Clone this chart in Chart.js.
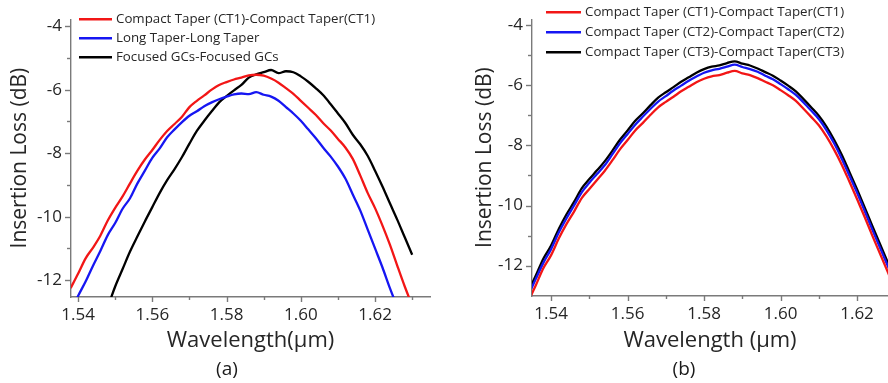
<!DOCTYPE html>
<html>
<head>
<meta charset="utf-8">
<script src="https://cdn.jsdelivr.net/npm/chart.js@4.4.1/dist/chart.umd.min.js"></script>
<style>
  html, body { margin: 0; padding: 0; background: #fff; }
  #wrap { position: relative; width: 888px; height: 383px; overflow: hidden; background: #fff; }
  .panel { position: absolute; top: 0; width: 444px; height: 383px; }
  .sub { position: absolute; width: 60px; text-align: center; font: 19px "Open Sans", sans-serif; line-height: 19px; color: #1a1a1a; top: 359px; }
</style>
</head>
<body>
<div id="wrap">
  <div class="panel" style="left:0"><canvas id="ca" width="444" height="383"></canvas></div>
  <div class="panel" style="left:444px"><canvas id="cb" width="444" height="383"></canvas></div>
  <div class="sub" id="la" style="left:197px">(a)</div>
  <div class="sub" id="lb" style="left:654px">(b)</div>
</div>
<script>
// ---------- Panel (a) data ----------
const wavelengthA = [1.538,1.540,1.542,1.544,1.546,1.548,1.550,1.552,1.554,1.556,1.558,1.560,1.562,1.564,1.566,1.568,1.570,1.572,1.574,1.576,1.578,1.580,1.582,1.584,1.586,1.588,1.590,1.592,1.594,1.596,1.598,1.600,1.602,1.604,1.606,1.608,1.610,1.612,1.614,1.616,1.618,1.620,1.622,1.624,1.626,1.628,1.630];
const compactCT1A = [-12.25,-11.80,-11.32,-10.98,-10.60,-10.12,-9.72,-9.36,-8.95,-8.55,-8.20,-7.90,-7.58,-7.30,-7.08,-6.85,-6.55,-6.35,-6.18,-6.00,-5.85,-5.76,-5.68,-5.62,-5.55,-5.53,-5.56,-5.65,-5.78,-5.95,-6.13,-6.35,-6.57,-6.79,-7.05,-7.28,-7.55,-7.82,-8.18,-8.70,-9.25,-9.73,-10.28,-10.88,-11.55,-12.20,-12.80];
const longTaperA = [-13.00,-12.50,-12.05,-11.55,-11.08,-10.58,-10.20,-9.75,-9.42,-8.95,-8.55,-8.15,-7.85,-7.50,-7.25,-7.02,-6.82,-6.68,-6.52,-6.40,-6.30,-6.22,-6.15,-6.12,-6.14,-6.08,-6.16,-6.22,-6.35,-6.55,-6.75,-6.98,-7.25,-7.52,-7.82,-8.10,-8.42,-8.80,-9.30,-9.80,-10.40,-11.00,-11.60,-12.25,-12.85,null,null];
const focusedGCA = [null,null,null,null,null,-12.85,-12.20,-11.65,-11.10,-10.62,-10.15,-9.70,-9.25,-8.85,-8.50,-8.12,-7.70,-7.30,-6.98,-6.68,-6.40,-6.20,-6.02,-5.85,-5.62,-5.52,-5.45,-5.38,-5.48,-5.42,-5.45,-5.58,-5.75,-5.95,-6.17,-6.45,-6.75,-7.05,-7.42,-7.72,-8.08,-8.55,-9.05,-9.58,-10.10,-10.65,-11.20];
const labelsA = ['Compact Taper (CT1)-Compact Taper(CT1)', 'Long Taper-Long Taper', 'Focused GCs-Focused GCs'];

// ---------- Panel (b) data ----------
const wavelengthB = [1.534,1.536,1.538,1.540,1.542,1.544,1.546,1.548,1.550,1.552,1.554,1.556,1.558,1.560,1.562,1.564,1.566,1.568,1.570,1.572,1.574,1.576,1.578,1.580,1.582,1.584,1.586,1.588,1.590,1.592,1.594,1.596,1.598,1.600,1.602,1.604,1.606,1.608,1.610,1.612,1.614,1.616,1.618,1.620,1.622,1.624,1.626,1.628,1.630];
const compactCT1B = [-13.20,-12.65,-12.08,-11.65,-11.10,-10.62,-10.20,-9.75,-9.45,-9.15,-8.85,-8.50,-8.13,-7.82,-7.50,-7.25,-6.98,-6.73,-6.55,-6.38,-6.20,-6.05,-5.90,-5.78,-5.70,-5.66,-5.58,-5.52,-5.60,-5.66,-5.76,-5.88,-6.00,-6.16,-6.33,-6.52,-6.78,-7.05,-7.33,-7.70,-8.14,-8.64,-9.20,-9.78,-10.38,-11.00,-11.60,-12.20,-12.80];
const compactCT2B = [-13.00,-12.44,-11.90,-11.45,-10.90,-10.43,-10.00,-9.56,-9.24,-8.95,-8.66,-8.30,-7.93,-7.62,-7.31,-7.04,-6.78,-6.54,-6.36,-6.17,-6.01,-5.85,-5.71,-5.58,-5.50,-5.45,-5.38,-5.31,-5.39,-5.46,-5.55,-5.68,-5.80,-5.96,-6.13,-6.32,-6.57,-6.84,-7.12,-7.49,-7.93,-8.44,-9.00,-9.57,-10.18,-10.80,-11.40,-12.00,-12.60];
const compactCT3B = [-12.88,-12.33,-11.76,-11.33,-10.78,-10.30,-9.88,-9.43,-9.12,-8.83,-8.53,-8.18,-7.81,-7.50,-7.18,-6.93,-6.66,-6.41,-6.23,-6.06,-5.88,-5.73,-5.58,-5.46,-5.38,-5.34,-5.26,-5.20,-5.28,-5.34,-5.44,-5.56,-5.68,-5.84,-6.01,-6.20,-6.46,-6.73,-7.01,-7.37,-7.81,-8.31,-8.88,-9.46,-10.06,-10.68,-11.28,-11.88,-12.48];
const labelsB = ['Compact Taper (CT1)-Compact Taper(CT1)', 'Compact Taper (CT2)-Compact Taper(CT2)', 'Compact Taper (CT3)-Compact Taper(CT3)'];

// ---------- Ticks / titles ----------
const xMajorTicks = [1.54, 1.56, 1.58, 1.60, 1.62];
const xMinorTicks = [1.55, 1.57, 1.59, 1.61, 1.63];
const yMajorTicks = [-12, -10, -8, -6, -4];
const yMinorTicks = [-11, -9, -7, -5];
const yTitle = 'Insertion Loss (dB)';
const xTitleA = 'Wavelength(μm)';
const xTitleB = 'Wavelength (μm)';

const AXIS = '#7a7a7a';
const TXT = '#262626';
const RED = '#f21616', BLUE = '#1616f2', BLACK = '#000000';
const FONT = '"Open Sans", sans-serif';

const toPts = (xs, ys) => xs.map((x, i) => ({ x, y: ys[i] }));

const decoPlugin = {
  id: 'deco',
  afterDraw(chart, args, o) {
    const ctx = chart.ctx, ca = chart.chartArea;
    const xs = chart.scales.x, ys = chart.scales.y;
    ctx.save();
    ctx.strokeStyle = AXIS; ctx.lineWidth = 1.4; ctx.lineCap = 'butt';
    const tickX = (vals, len) => vals.forEach(v => {
      if (v < xs.min || v > xs.max) return;
      const p = Math.round(xs.getPixelForValue(v)) + 0.5;
      ctx.beginPath(); ctx.moveTo(p, ca.bottom); ctx.lineTo(p, ca.bottom + len); ctx.stroke();
    });
    const tickY = (vals, len) => vals.forEach(v => {
      if (v < ys.min || v > ys.max) return;
      const p = Math.round(ys.getPixelForValue(v)) + 0.5;
      ctx.beginPath(); ctx.moveTo(ca.left, p); ctx.lineTo(ca.left - len, p); ctx.stroke();
    });
    tickX(xMajorTicks, 5); tickX(xMinorTicks, 3);
    tickY(yMajorTicks, 6); tickY(yMinorTicks, 4);
    // legend
    ctx.font = '13.3px ' + FONT; ctx.textBaseline = 'middle'; ctx.textAlign = 'left';
    chart.data.datasets.forEach((ds, i) => {
      const y = ca.top + o.top + i * o.gap;
      const x0 = ca.left + o.left;
      ctx.strokeStyle = ds.borderColor; ctx.lineWidth = 2.6;
      ctx.beginPath(); ctx.moveTo(x0, y); ctx.lineTo(x0 + o.len, y); ctx.stroke();
      ctx.fillStyle = TXT;
      ctx.fillText(ds.label, x0 + o.len + 4, y);
    });
    ctx.restore();
  }
};

function makeChart(canvasId, xs, series, labels, cfg) {
  const colors = [RED, BLUE, BLACK];
  return new Chart(document.getElementById(canvasId), {
    type: 'line',
    data: {
      datasets: series.map((s, i) => ({
        label: labels[i], data: toPts(xs, s), borderColor: colors[i], backgroundColor: colors[i],
        borderWidth: 2.3, pointRadius: 0, cubicInterpolationMode: 'monotone', spanGaps: false, fill: false
      }))
    },
    options: {
      responsive: false, animation: false, devicePixelRatio: 1,
      layout: { padding: cfg.padding },
      plugins: { legend: { display: false }, tooltip: { enabled: false }, deco: cfg.legend },
      scales: {
        x: {
          type: 'linear', min: cfg.xMin, max: cfg.xMax,
          afterBuildTicks: s => { s.ticks = xMajorTicks.map(v => ({ value: v })); },
          afterFit: s => { s.height = cfg.xHeight; },
          grid: { display: false, drawTicks: false },
          border: { display: true, color: AXIS, width: 1.4 },
          ticks: { callback: v => Number(v).toFixed(2), color: TXT, font: { family: FONT, size: 17 }, padding: 8, maxRotation: 0, autoSkip: false },
          title: { display: true, text: cfg.xTitle, color: TXT, font: { family: FONT, size: 22 }, padding: { top: 0, bottom: 29 } }
        },
        y: {
          type: 'linear', min: cfg.yMin, max: cfg.yMax,
          afterBuildTicks: s => { s.ticks = yMajorTicks.map(v => ({ value: v })); },
          afterFit: s => { s.width = cfg.yWidth; },
          grid: { display: false, drawTicks: false },
          border: { display: true, color: AXIS, width: 1.4 },
          ticks: { callback: v => String(v), color: TXT, font: { family: FONT, size: 17 }, padding: 9 },
          title: { display: true, text: yTitle, color: TXT, font: { family: FONT, size: 21 }, padding: { top: cfg.yTitlePad, bottom: 0 } }
        }
      }
    },
    plugins: [decoPlugin]
  });
}

function build() {
  makeChart('ca', wavelengthA, [compactCT1A, longTaperA, focusedGCA], labelsA, {
    padding: { top: 15, right: 14, left: 0, bottom: 0 },
    xMin: 1.5381, xMax: 1.6348, yMin: -12.53, yMax: -3.78,
    xHeight: 86, yWidth: 71, yTitlePad: 7, xTitle: xTitleA,
    legend: { left: 8, top: 0, gap: 19, len: 33 }
  });
  makeChart('cb', wavelengthB, [compactCT1B, compactCT2B, compactCT3B], labelsB, {
    padding: { top: 14, right: 0, left: 0, bottom: 0 },
    xMin: 1.535, xMax: 1.6281, yMin: -13.01, yMax: -3.8,
    xHeight: 87, yWidth: 88, yTitlePad: 28, xTitle: xTitleB,
    legend: { left: 14, top: -7, gap: 20, len: 35 }
  });
}

if (document.fonts && document.fonts.load) {
  Promise.all([document.fonts.load('17px "Open Sans"'), document.fonts.load('13px "Open Sans"')]).then(build, build);
} else { build(); }
</script>
</body>
</html>
